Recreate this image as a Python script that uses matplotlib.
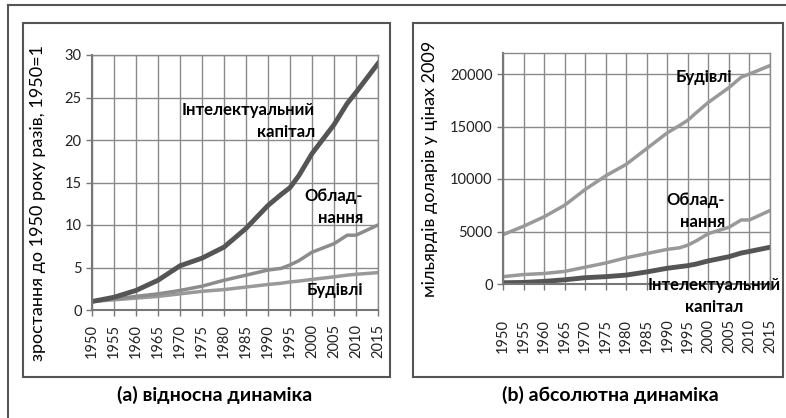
import matplotlib.pyplot as plt
import numpy as np
from matplotlib.patches import Rectangle
from matplotlib.lines import Line2D

plt.rcParams['font.family'] = ['Lato', 'DejaVu Sans']

# data
years = [1950, 1955, 1960, 1965, 1970, 1975, 1980, 1985, 1990, 1993, 1995, 1997,
         2000, 2005, 2008, 2010, 2015]

# (a) relative growth, 1950 = 1
rel_ic = [1.0, 1.5, 2.3, 3.5, 5.2, 6.1, 7.4, 9.6, 12.3, 13.6, 14.4, 15.8,
          18.4, 21.8, 24.3, 25.6, 29.0]
rel_equip = [1.0, 1.3, 1.6, 1.9, 2.3, 2.8, 3.5, 4.1, 4.7, 4.9, 5.3, 5.8,
             6.8, 7.8, 8.8, 8.8, 10.0]
rel_build = [1.0, 1.2, 1.4, 1.6, 1.9, 2.2, 2.4, 2.7, 3.0, 3.15, 3.3, 3.4,
             3.6, 3.9, 4.1, 4.2, 4.4]

# (b) absolute, billions of 2009 dollars
abs_build = [4700, 5500, 6400, 7500, 9000, 10300, 11400, 12900, 14400, 15100, 15600, 16300,
             17300, 18700, 19700, 20000, 20800]
abs_equip = [700, 900, 1000, 1200, 1600, 2000, 2500, 2900, 3300, 3450, 3700, 4100,
             4800, 5400, 6100, 6100, 7000]
abs_ic = [120, 150, 250, 400, 600, 700, 850, 1150, 1500, 1650, 1750, 1900,
          2200, 2600, 2950, 3100, 3500]

xticks = list(range(1950, 2016, 5))

dark = '#555555'
light = '#999999'
mid = '#8c8c8c'
grid_c = '#8a8a8a'

fig = plt.figure(figsize=(7.86, 4.18), dpi=100)
W, H = 786, 418


def fx(px):
    return px / W


def fy(py):
    return 1 - py / H


def style_axes(ax, xpad):
    ax.set_xlim(1950, 2015)
    ax.set_xticks(xticks)
    ax.set_xticklabels([str(y) for y in xticks], rotation=90)
    ax.grid(True, color=grid_c, linewidth=1)
    ax.set_axisbelow(True)
    for s in ['top', 'right']:
        ax.spines[s].set_color(grid_c)
        ax.spines[s].set_linewidth(1)
    for s in ['left', 'bottom']:
        ax.spines[s].set_color('#777777')
        ax.spines[s].set_linewidth(1.5)
    ax.tick_params(axis='both', colors='#777777', labelcolor='#222222', length=4, width=1,
                   labelsize=10.5)
    ax.tick_params(axis='x', pad=xpad)


# panel frames and outer border
fig.add_artist(Line2D([fx(8), fx(786)], [fy(5), fy(5)], color='#555555', lw=1.5))
fig.add_artist(Line2D([fx(8), fx(8)], [fy(5), fy(418)], color='#555555', lw=1.5))
fig.add_artist(Rectangle((fx(23), fy(377)), fx(390 - 23), (377 - 23) / H, fill=False,
                         edgecolor='#555555', lw=1.5))
fig.add_artist(Rectangle((fx(413), fy(377)), fx(783 - 413), (377 - 23) / H, fill=False,
                         edgecolor='#555555', lw=1.5))

# (a)
ax1 = fig.add_axes([fx(92), fy(310), fx(378 - 92), (310 - 55) / H])
ax1.plot(years, rel_build, color=light, lw=2.5)
ax1.plot(years, rel_equip, color=mid, lw=2.5)
ax1.plot(years, rel_ic, color=dark, lw=3.5)
style_axes(ax1, 6)
ax1.set_ylim(0, 30)
ax1.set_yticks(range(0, 31, 5))
ax1.set_ylabel('зростання до 1950 року разів, 1950=1', fontsize=13, va='center')
ax1.yaxis.set_label_coords(-0.19, 0.42)
ax1.text(2000.7, 22.2, 'Інтелектуальний\nкапітал', ha='right', va='center',
         multialignment='right', fontsize=12, fontweight='bold', linespacing=1.45)
ax1.text(2011.6, 12.1, 'Облад-\nнання', ha='right', va='center',
         multialignment='right', fontsize=12, fontweight='bold', linespacing=1.45)
ax1.text(2011.6, 2.4, 'Будівлі', ha='right', va='center',
         fontsize=12, fontweight='bold')

# (b)
ax2 = fig.add_axes([fx(503), fy(284), fx(770 - 503), (284 - 53) / H])
ax2.plot(years, abs_build, color=light, lw=2.5)
ax2.plot(years, abs_equip, color=light, lw=2.5)
ax2.plot(years, abs_ic, color=dark, lw=3.5)
style_axes(ax2, 21)
ax2.set_ylim(0, 22000)
ax2.set_yticks(range(0, 20001, 5000))
ax2.set_ylabel('мільярдів доларів у цінах 2009', fontsize=13, va='center')
ax2.yaxis.set_label_coords(-0.275, 0.5)
ax2.text(2005.7, 19700, 'Будівлі', ha='right', va='center',
         fontsize=12, fontweight='bold')
ax2.text(2004, 6950, 'Облад-\nнання', ha='right', va='center',
         multialignment='right', fontsize=12, fontweight='bold', linespacing=1.45)
ax2.text(2001.5, -1150, 'Інтелектуальний\nкапітал', ha='center', va='center',
         multialignment='center', fontsize=12, fontweight='bold', linespacing=1.45,
         clip_on=False, zorder=5)

# captions
fig.text(fx(215), fy(395), '(a) відносна динаміка', ha='center', va='center',
         fontsize=14, fontweight='bold')
fig.text(fx(610), fy(395), '(b) абсолютна динаміка', ha='center', va='center',
         fontsize=14, fontweight='bold')

fig.savefig('out.png', dpi=100)
